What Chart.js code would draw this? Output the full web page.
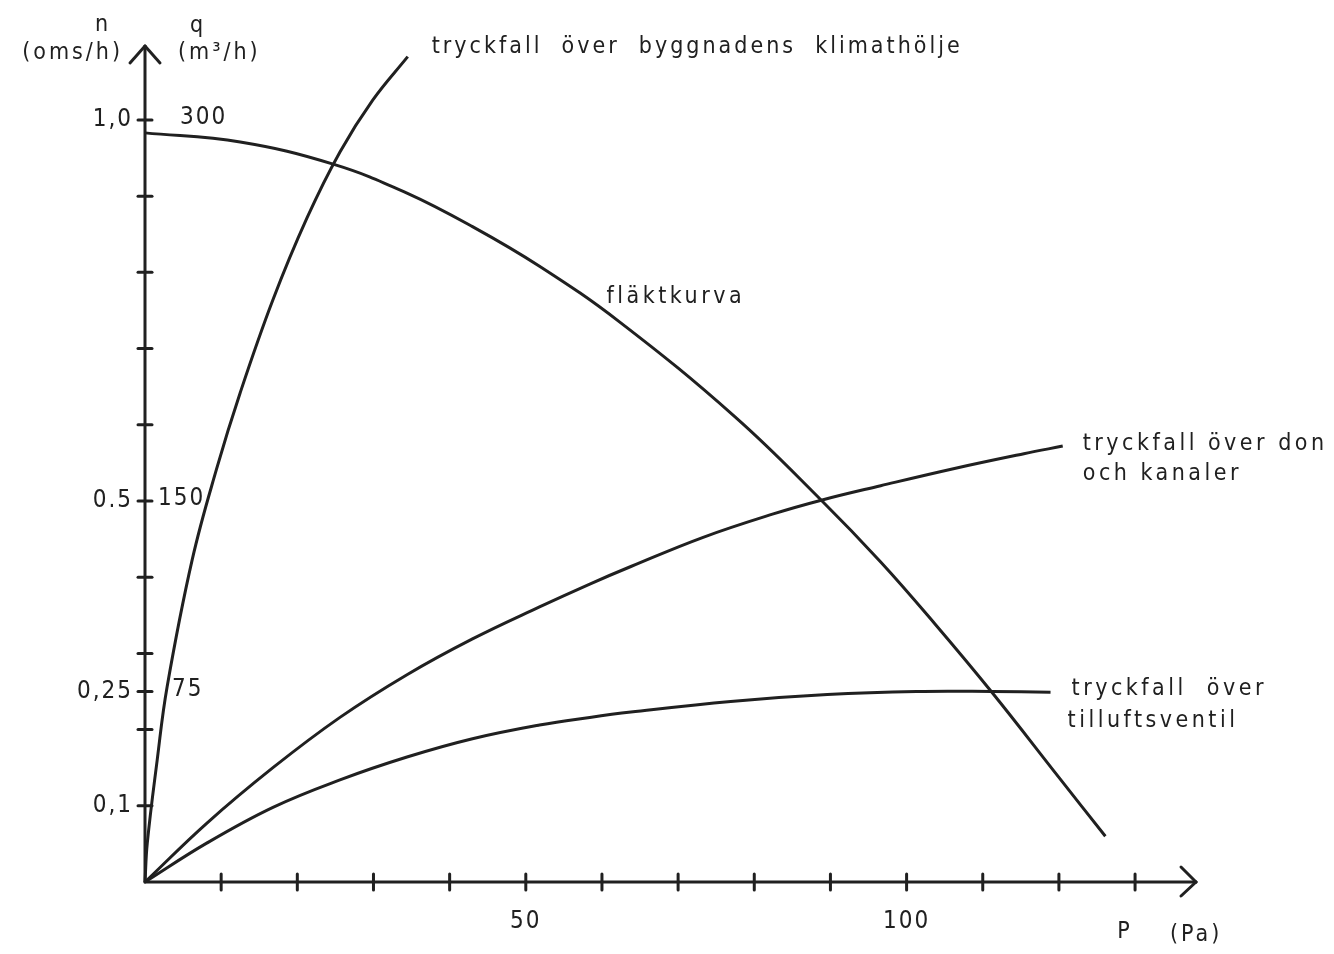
<!DOCTYPE html>
<html>
<head>
<meta charset="utf-8">
<script src="https://cdn.jsdelivr.net/npm/chart.js@4/dist/chart.umd.min.js"></script>
<style>
  html, body { margin: 0; padding: 0; background: #ffffff; }
  #chart { display: block; }
</style>
</head>
<body>
<canvas id="chart" width="1334" height="954"></canvas>
<script>
// Tick values and tick labels
const xTicks = [10, 20, 30, 40, 50, 60, 70, 80, 90, 100, 110, 120, 130];
const xTickLabels = { 50: '50', 100: '100' };
const yTicks = [0.1, 0.2, 0.25, 0.3, 0.4, 0.5, 0.6, 0.7, 0.8, 0.9, 1.0];
const nTickLabels = { 0.1: '0,1', 0.25: '0,25', 0.5: '0.5', 1: '1,0' };
const qTickValues = [1.0, 0.5, 0.25];
const qTickLabels = ['300', '150', '75'];

// Curves: P (Pa) against n (oms/h)
const fanP = [0, 12.5, 24.7, 34.4, 43.0, 51.8, 62.3, 77.4, 88.8, 96.6, 103.7, 111.2, 120.1, 126.1];
const fanN = [0.983, 0.971, 0.942, 0.904, 0.860, 0.808, 0.735, 0.611, 0.501, 0.420, 0.339, 0.249, 0.136, 0.060];

const shellP = [0, 0.3, 1.6, 2.9, 6.2, 9.4, 12.5, 16.8, 21.3, 25.6, 29.9, 34.5];
const shellN = [0, 0.051, 0.160, 0.256, 0.423, 0.542, 0.642, 0.764, 0.872, 0.958, 1.026, 1.083];

const ductP = [0, 8.1, 16.8, 25.6, 34.4, 43.0, 51.8, 58.4, 63.8, 73.2, 82.5, 88.8, 96.6, 106.0, 115.4, 120.5];
const ductN = [0, 0.077, 0.150, 0.216, 0.272, 0.319, 0.361, 0.391, 0.414, 0.452, 0.483, 0.501, 0.520, 0.542, 0.562, 0.572];

const valveP = [0, 8.1, 16.8, 25.6, 34.4, 43.0, 51.8, 58.4, 63.8, 76.9, 89.6, 101.3, 111.2, 118.9];
const valveN = [0, 0.051, 0.098, 0.134, 0.164, 0.188, 0.206, 0.216, 0.223, 0.237, 0.246, 0.250, 0.250, 0.249];

const INK = '#202020';
const FONT = "'DejaVu Sans Condensed', 'DejaVu Sans', sans-serif";

function toPoints(xs, ys) {
  return xs.map((x, i) => ({ x: x, y: ys[i] }));
}

function curve(label, xs, ys) {
  return {
    label: label,
    data: toPoints(xs, ys),
    showLine: true,
    borderColor: INK,
    borderWidth: 3,
    pointRadius: 0,
    tension: 0.4,
    fill: false,
    clip: false,
  };
}

function drawLine(ctx, x1, y1, x2, y2) {
  ctx.beginPath();
  ctx.moveTo(x1, y1);
  ctx.lineTo(x2, y2);
  ctx.stroke();
}

// Axes with arrows and crossing ticks, like the hand drawing
const axesPlugin = {
  id: 'axes',
  beforeDraw(chart) {
    // wider letter spacing for the tick labels drawn by the scales
    chart.ctx.letterSpacing = '2px';
  },
  beforeDatasetsDraw(chart) {
    const ctx = chart.ctx;
    const x = chart.scales.x;
    const y = chart.scales.y;
    const x0 = x.getPixelForValue(0);
    const y0 = y.getPixelForValue(0);
    const top = chart.chartArea.top;
    const right = chart.chartArea.right;

    ctx.save();
    ctx.strokeStyle = INK;
    ctx.lineWidth = 3;
    ctx.lineCap = 'round';
    ctx.lineJoin = 'round';

    drawLine(ctx, x0, y0, x0, top);
    drawLine(ctx, x0 - 15, top + 17, x0, top);
    drawLine(ctx, x0 + 15, top + 17, x0, top);

    drawLine(ctx, x0, y0, right, y0);
    drawLine(ctx, right - 15, y0 - 15, right, y0);
    drawLine(ctx, right - 15, y0 + 14, right, y0);

    for (const v of yTicks) {
      const py = y.getPixelForValue(v);
      drawLine(ctx, x0 - 7, py, x0 + 7, py);
    }
    for (const v of xTicks) {
      const px = x.getPixelForValue(v);
      drawLine(ctx, px, y0 - 8, px, y0 + 8);
    }
    ctx.restore();
  },
  afterDraw(chart) {
    const ctx = chart.ctx;
    const x = chart.scales.x;
    const y = chart.scales.y;
    const x0 = x.getPixelForValue(0);
    const y0 = y.getPixelForValue(0);
    const top = chart.chartArea.top;
    const right = chart.chartArea.right;

    ctx.save();
    ctx.fillStyle = INK;
    ctx.textBaseline = 'middle';
    ctx.font = '24px ' + FONT;
    ctx.letterSpacing = '2px';

    // q tick labels to the right of the axis
    const qOffsets = [35, 13, 27];
    qTickValues.forEach((v, i) => {
      ctx.textAlign = 'left';
      ctx.fillText(qTickLabels[i], x0 + qOffsets[i], y.getPixelForValue(v) - 2);
    });

    // axis titles
    ctx.font = '23px ' + FONT;
    ctx.letterSpacing = '3px';
    ctx.textAlign = 'right';
    ctx.fillText('(oms/h)', x0 - 22, top + 7);
    ctx.textAlign = 'center';
    ctx.fillText('n', x0 - 42, top - 21);
    ctx.textAlign = 'left';
    ctx.fillText('(m\u00B3/h)', x0 + 33, top + 7);
    ctx.textAlign = 'center';
    ctx.fillText('q', x0 + 53, top - 20);
    ctx.fillText('P', right - 71, y0 + 50);
    ctx.textAlign = 'left';
    ctx.fillText('(Pa)', right - 26, y0 + 53);

    // curve names
    const end = (xs, ys) => ({
      px: x.getPixelForValue(xs[xs.length - 1]),
      py: y.getPixelForValue(ys[ys.length - 1]),
    });
    ctx.letterSpacing = '3px';
    const s = end(shellP, shellN);
    ctx.fillText('tryckfall  över  byggnadens  klimathölje', s.px + 24, s.py - 10);

    ctx.letterSpacing = '3.5px';
    ctx.fillText('fläktkurva', x.getPixelForValue(60.6), y.getPixelForValue(0.768));

    const d = end(ductP, ductN);
    ctx.fillText('tryckfall över don', d.px + 20, d.py - 2);
    ctx.fillText('och kanaler', d.px + 20, d.py + 28);

    const v = end(valveP, valveN);
    ctx.fillText('tryckfall  över', v.px + 21, v.py - 3);
    ctx.fillText('tilluftsventil', v.px + 17, v.py + 29);
    ctx.restore();
  },
};

new Chart(document.getElementById('chart'), {
  type: 'scatter',
  data: {
    datasets: [
      curve('fläktkurva', fanP, fanN),
      curve('tryckfall över byggnadens klimathölje', shellP, shellN),
      curve('tryckfall över don och kanaler', ductP, ductN),
      curve('tryckfall över tilluftsventil', valveP, valveN),
    ],
  },
  options: {
    responsive: false,
    animation: false,
    layout: { padding: { top: 46, right: 138, left: 0, bottom: 0 } },
    plugins: {
      legend: { display: false },
      tooltip: { enabled: false },
    },
    scales: {
      x: {
        type: 'linear',
        min: 0,
        max: 138,
        grid: { display: false, drawTicks: false },
        border: { display: false },
        afterBuildTicks: (scale) => { scale.ticks = xTicks.map(v => ({ value: v })); },
        afterFit: (scale) => { scale.height = 72; },
        ticks: {
          autoSkip: false,
          maxRotation: 0,
          padding: 25,
          color: INK,
          font: { family: FONT, size: 24 },
          callback: (value) => xTickLabels[value] || '',
        },
      },
      y: {
        type: 'linear',
        min: 0,
        max: 1.097,
        grid: { display: false, drawTicks: false },
        border: { display: false },
        afterBuildTicks: (scale) => { scale.ticks = yTicks.map(v => ({ value: v })); },
        afterFit: (scale) => { scale.width = 145; },
        ticks: {
          autoSkip: false,
          padding: 12,
          color: INK,
          font: { family: FONT, size: 24 },
          callback: (value) => nTickLabels[value] || '',
        },
      },
    },
  },
  plugins: [axesPlugin],
});
</script>
</body>
</html>
